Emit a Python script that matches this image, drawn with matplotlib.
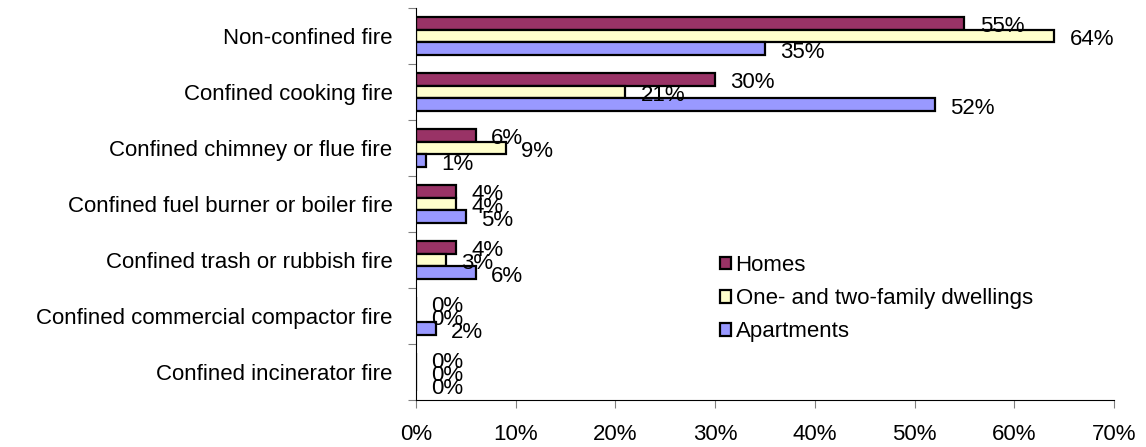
import matplotlib
matplotlib.use("Agg")
import matplotlib.pyplot as plt
import numpy as np
from matplotlib.patches import Patch

categories = ["Non-confined fire", "Confined cooking fire", "Confined chimney or flue fire",
              "Confined fuel burner or boiler fire", "Confined trash or rubbish fire",
              "Confined commercial compactor fire", "Confined incinerator fire"]
series_names = ["Homes", "One- and two-family dwellings", "Apartments"]
homes = [55, 30, 6, 4, 4, 0, 0]
one_two = [64, 21, 9, 4, 3, 0, 0]
apartments = [35, 52, 1, 5, 6, 2, 0]
colors = ["#993366", "#FFFFCC", "#9999FF"]
xticks = [0, 10, 20, 30, 40, 50, 60, 70]

FS = 16
plt.rcParams['font.family'] = ['Liberation Sans', 'DejaVu Sans']
W, H = 1146, 447
fig = plt.figure(figsize=(W/100, H/100), dpi=100)
ax = fig.add_axes([416/W, 1-400/H, (1114-416)/W, (400-8)/H])

n = len(categories)
y = np.arange(n)
bh = 0.232
offsets = [-bh, 0, bh]
for vals, off, c, name in zip([homes, one_two, apartments], offsets, colors, series_names):
    ax.barh(y + off, vals, height=bh, color=c, edgecolor='black', linewidth=1.6, label=name)
    for yi, v in zip(y + off, vals):
        ax.annotate(f"{v}%", (v, yi), xytext=(11, -2.5), textcoords='offset points',
                    ha='left', va='center', fontsize=FS)

ax.set_ylim(n - 0.5, -0.5)
ax.set_xlim(0, 70)
ax.set_xticks(xticks)
ax.set_xticklabels([f"{t}%" for t in xticks], fontsize=FS)
ax.set_yticks(np.arange(n + 1) - 0.5, minor=False)
ax.set_yticklabels([])
ax.set_yticks(y, minor=True)
ax.set_yticklabels(categories, minor=True, fontsize=FS)
ax.tick_params(axis='y', which='minor', length=0, pad=17)
ax.tick_params(axis='y', which='major', length=6, direction='out', color='#808080')
ax.tick_params(axis='x', length=6, direction='out', color='#808080', pad=11)
for s in ['top', 'right']:
    ax.spines[s].set_visible(False)
ax.spines['left'].set_color('black')
ax.spines['bottom'].set_color('black')

handles = [Patch(facecolor=c, edgecolor='black', linewidth=1.6) for c in colors]
fig.legend(handles, series_names, loc='upper left', bbox_to_anchor=(720/W, 1-255/H),
           frameon=False, fontsize=FS, handlelength=0.5, handleheight=0.5,
           handletextpad=0.2, labelspacing=0.55, borderaxespad=0, borderpad=0)

fig.savefig("out.png", dpi=100)
